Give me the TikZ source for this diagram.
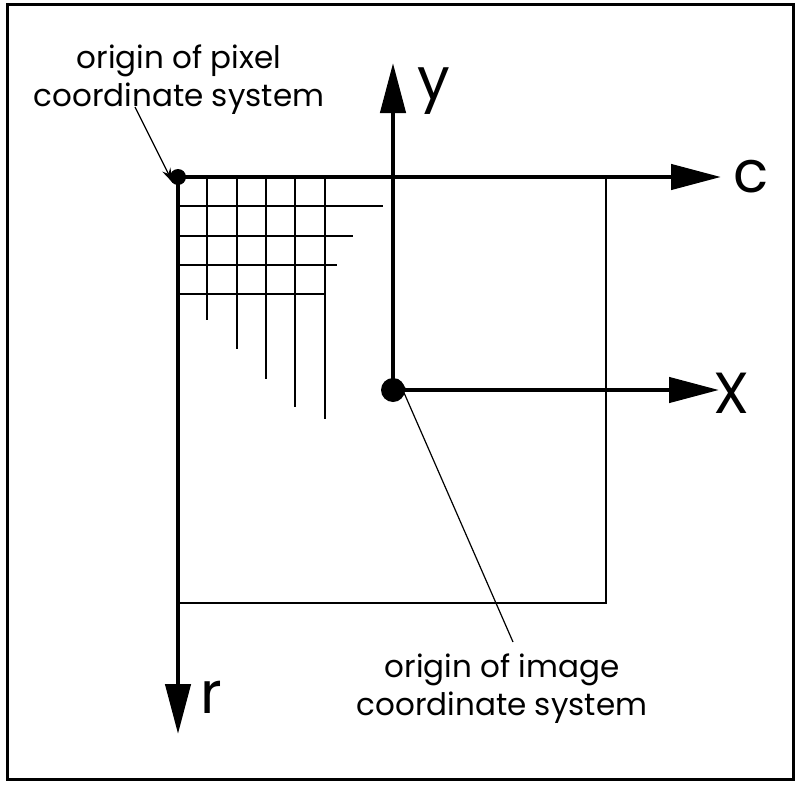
\documentclass[tikz,border=0pt]{standalone}
\usepackage{fontspec}
\setmainfont{Poppins}
\usetikzlibrary{arrows.meta}

\begin{document}
\begin{tikzpicture}[x=1pt,y=-1pt,
  bigtip/.style={-{Triangle[length=50pt,width=25pt]}},
  smalltip/.style={-{Stealth[length=15pt,width=9pt]}, line width=1.2pt},
  axis/.style={line width=4.5pt, bigtip},
  axlbl/.style={font=\fontsize{58}{58}\selectfont, inner sep=0pt, anchor=base west},
  lbl/.style={align=center, font=\fontsize{31}{38}\selectfont}]
\useasboundingbox (0,0) rectangle (800,784);
\draw[line width=3pt] (7,5) rectangle (793,779);
% origins
\coordinate (pixorigin) at (178,177);
\coordinate (imgorigin) at (393,390);
\coordinate (ctip) at (721,177);
\coordinate (rtip) at (178,734);
\coordinate (ytip) at (393,63);
\coordinate (xtip) at (719,390);
% image area
\draw[line width=2pt] (pixorigin) rectangle (606,603);
% pixel grid
\foreach \i/\e in {1/320,2/349,3/379,4/407,5/419}
  \draw[line width=2pt] (178+29.3*\i,177) -- (178+29.3*\i,\e);
\foreach \i/\e in {1/383,2/353,3/337,4/324}
  \draw[line width=2pt] (178,177+29.3*\i) -- (\e,177+29.3*\i);
% axes
\draw[axis] (pixorigin) -- (ctip);
\draw[axis] (pixorigin) -- (rtip);
\draw[axis] (imgorigin) -- (ytip);
\draw[axis] (imgorigin) -- (xtip);
\fill (pixorigin) circle (8);
\fill (imgorigin) circle (12);
\node[axlbl] (clbl) at (733,192) {c};
\node[axlbl] (ylbl) at (417,99) {y};
\node[axlbl] (xlbl) at (713,413) {X};
\node[axlbl] (rlbl) at (200,713) {r};
% labels
\node[lbl] (pixlabel) at (179,80) {origin of pixel\\coordinate system};
\node[lbl] (imglabel) at (502,689) {origin of image\\coordinate system};
\draw[smalltip] (135,107) -- ([xshift=-5pt,yshift=-6pt]pixorigin);
\draw[smalltip] (513,642) -- ([xshift=5pt,yshift=11pt]imgorigin);
\end{tikzpicture}
\end{document}
